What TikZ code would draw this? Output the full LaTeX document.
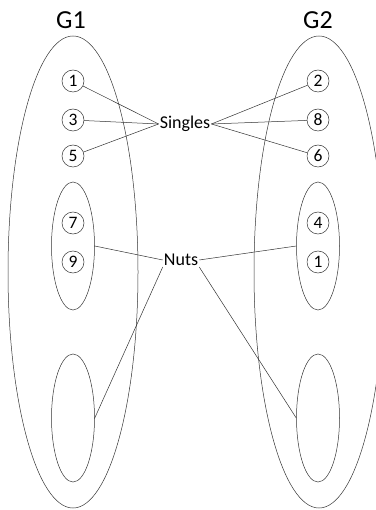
\documentclass[tikz,border=0pt]{standalone}
\usepackage{fontspec}
\setmainfont{Carlito}
\usetikzlibrary{shapes.geometric}
\begin{document}
\begin{tikzpicture}[x=1pt,y=-1pt,
  ln/.style={draw=black!80,line width=0.5pt},
  num/.style={circle,ln,minimum size=22pt,inner sep=0pt,font=\fontsize{17.5}{17.5}\selectfont},
  bigell/.style={ellipse,ln,minimum width=130pt,minimum height=472pt,inner sep=0pt},
  smell/.style={ellipse,ln,minimum width=43pt,minimum height=128pt,inner sep=0pt},
  lbl/.style={inner sep=1pt,font=\fontsize{18}{18}\selectfont},
  title/.style={font=\fontsize{26}{26}\selectfont}]
\useasboundingbox (0,0) rectangle (375,510);
\node[title] (g1) at (71,20) {G1};
\node[title] (g2) at (318,20) {G2};
\node[bigell] (big1) at (73,272) {};
\node[bigell] (big2) at (319,272) {};
\node[num] (a1) at (73,81) {1};
\node[num] (a3) at (73,120) {3};
\node[num] (a5) at (73,156) {5};
\node[num] (b2) at (318,81) {2};
\node[num] (b8) at (318,120) {8};
\node[num] (b6) at (318,156) {6};
\node[smell] (in1) at (73,246) {};
\node[smell] (in2) at (318,246) {};
\node[smell] (lo1) at (73,418) {};
\node[smell] (lo2) at (318,418) {};
\node[num] (a7) at (73,223) {7};
\node[num] (a9) at (73,262) {9};
\node[num] (b4) at (318,223) {4};
\node[num] (b1) at (318,262) {1};
\node[lbl] (singles) at (185,124) {Singles};
\node[lbl] (nuts) at (181,260) {Nuts};
\draw[ln] (a1) -- (singles.west);
\draw[ln] (a3) -- (singles.west);
\draw[ln] (a5) -- (singles.west);
\draw[ln] (b2) -- (singles.east);
\draw[ln] (b8) -- (singles.east);
\draw[ln] (b6) -- (singles.east);
\draw[ln] (in1.east) -- (nuts.west);
\draw[ln] (in2.west) -- (nuts.east);
\draw[ln] (lo1.east) -- (nuts.south west);
\draw[ln] (lo2.west) -- (nuts.south east);
\end{tikzpicture}
\end{document}
